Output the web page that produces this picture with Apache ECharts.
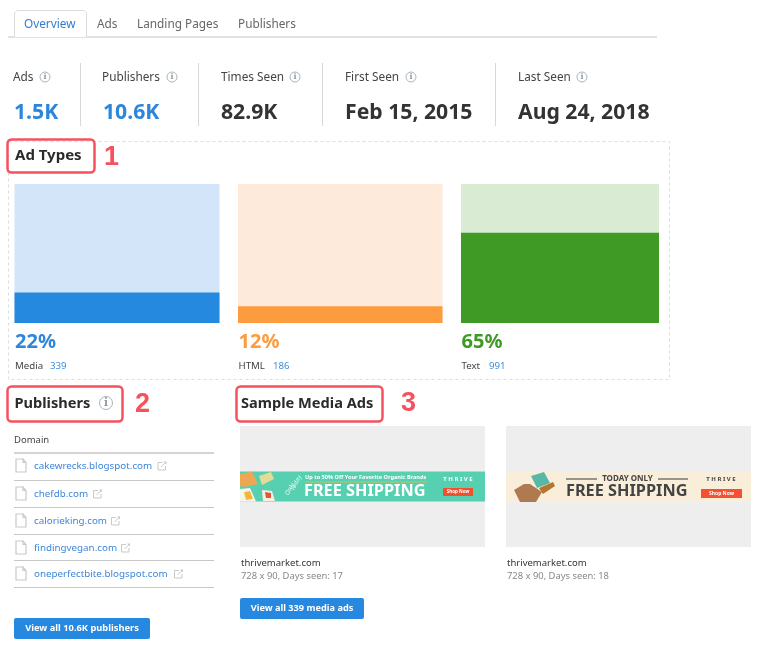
<!DOCTYPE html>
<html>
<head>
<meta charset="utf-8">
<title>Ad Types</title>
<style>
  html, body { margin: 0; padding: 0; background: #fff; }
  #chart { width: 762px; height: 648px; }
</style>
<script src="https://cdn.jsdelivr.net/npm/echarts@6/dist/echarts.min.js"></script>
</head>
<body>
<div id="chart"></div>
<script>
// 数据
var tabs = ['Overview', 'Ads', 'Landing Pages', 'Publishers']
var statLabels = ['Ads', 'Publishers', 'Times Seen', 'First Seen', 'Last Seen']
var statValues = ['1.5K', '10.6K', '82.9K', 'Feb 15, 2015', 'Aug 24, 2018']
var adTypes = ['Media', 'HTML', 'Text']
var adShares = [22, 12, 65]
var adCounts = ['339', '186', '991']
var publishers = ['cakewrecks.blogspot.com', 'chefdb.com', 'calorieking.com', 'findingvegan.com', 'oneperfectbite.blogspot.com']
var sampleDomains = ['thrivemarket.com', 'thrivemarket.com']
var sampleInfo = ['728 x 90, Days seen: 17', '728 x 90, Days seen: 18']

var FONT = '"Noto Sans", sans-serif'
var BLUE = '#2b86dc'
var DARK = '#333333'
var GRAY = '#666666'
var RED = '#f5525d'
var LINE = '#dddddd'

var els = []

function text(str, x, y, size, color, weight, align, family) {
  var el = {
    type: 'text',
    x: x,
    y: y,
    silent: true,
    style: {
      text: str,
      fontFamily: family || FONT,
      fontSize: size,
      fontWeight: weight || 'normal',
      fill: color,
      align: align || 'left',
      verticalAlign: 'middle',
    },
  }
  els.push(el)
  return el
}

function rect(x, y, w, h, fill, r) {
  els.push({
    type: 'rect',
    silent: true,
    shape: { x: x, y: y, width: w, height: h, r: r || 0 },
    style: { fill: fill },
  })
}

function box(x, y, w, h, stroke, lineWidth, r, dash) {
  els.push({
    type: 'rect',
    silent: true,
    shape: { x: x, y: y, width: w, height: h, r: r || 0 },
    style: { fill: 'none', stroke: stroke, lineWidth: lineWidth, lineDash: dash || null },
  })
}

function line(x1, y1, x2, y2, color, width) {
  els.push({
    type: 'line',
    silent: true,
    shape: { x1: x1, y1: y1, x2: x2, y2: y2 },
    style: { stroke: color, lineWidth: width || 1 },
  })
}

function poly(points, fill) {
  els.push({
    type: 'polygon',
    silent: true,
    shape: { points: points },
    style: { fill: fill },
  })
}

// 信息图标
function infoIcon(cx, cy, r) {
  els.push({
    type: 'circle',
    silent: true,
    shape: { cx: cx, cy: cy, r: r },
    style: { fill: 'none', stroke: '#a9b4bb', lineWidth: 1 },
  })
  text('i', cx, cy, r * 1.6, '#8f9ba3', 'bold', 'center', 'DejaVu Serif')
}

// 文件图标
function fileIcon(x, y) {
  els.push({
    type: 'polyline',
    silent: true,
    shape: { points: [[x + 7, y], [x, y], [x, y + 13], [x + 10, y + 13], [x + 10, y + 3.5], [x + 7, y], [x + 7, y + 3.5], [x + 10, y + 3.5]] },
    style: { fill: 'none', stroke: '#c9c9c9', lineWidth: 1.2 },
  })
}

// 外链图标
function linkIcon(cx, cy) {
  els.push({
    type: 'polyline',
    silent: true,
    shape: { points: [[cx + 0.5, cy - 3.5], [cx - 4, cy - 3.5], [cx - 4, cy + 4], [cx + 3.5, cy + 4], [cx + 3.5, cy]] },
    style: { fill: 'none', stroke: '#c9c9c9', lineWidth: 1 },
  })
  line(cx - 1, cy + 1, cx + 4, cy - 4, '#c9c9c9', 1)
  poly([[cx + 1.5, cy - 4.5], [cx + 4.5, cy - 4.5], [cx + 4.5, cy - 1.5]], '#c9c9c9')
}

// 顶部标签
var tabX = [24, 97, 137, 238]
line(8, 37, 657, 37, '#e2e2e2', 2)
els.push({
  type: 'polyline',
  silent: true,
  shape: { points: [[14.5, 37], [14.5, 13], [17, 10.5], [84, 10.5], [86.5, 13], [86.5, 37]] },
  style: { fill: '#fff', stroke: '#dcdcdc', lineWidth: 1 },
})
tabs.forEach(function (name, i) {
  text(name, tabX[i], 24.5, 11.8, i === 0 ? '#2f7ed0' : GRAY)
})

// 统计
var statX = [13, 102, 221, 345, 518]
var statValueX = [14, 103, 221, 345, 518]
var statIconX = [45, 172, 295, 411, 582]
var statSepX = [80.5, 198.5, 322.5, 495.5]
statLabels.forEach(function (name, i) {
  text(name, statX[i], 77.5, 11.8, '#444444')
  infoIcon(statIconX[i], 77, 5)
  text(statValues[i], statValueX[i], 113, 21.2, i < 2 ? BLUE : DARK, 'bold')
})
statSepX.forEach(function (x) {
  line(x, 63, x, 126, '#d8d8d8', 1)
})

// Ad Types 区域
box(8.5, 141.5, 661, 238, LINE, 1, 0, [3, 3])
rect(10, 143, 84, 29, '#fff')
box(7.5, 139.5, 87, 33, RED, 2.5, 4)
text('Ad Types', 15, 156, 15, '#2b2b2b', 'bold')
text('1', 104, 158, 27, RED, 'bold', 'left', '"Liberation Sans"')

var barLeft = [14.5, 238, 461]
var barWidth = [205, 204.5, 198]
var barTop = 184
var barHeight = 139
var barColors = ['#2589df', '#fd9c3f', '#3e9a24']
var barBgColors = ['#d3e5f8', '#feeadb', '#d9ebd3']
var percentColors = ['#2f86dc', '#fd9c3f', '#3e9a24']
var countX = [50, 273, 489]

adTypes.forEach(function (name, i) {
  text(adShares[i] + '%', barLeft[i] + 0.5, 342, 20, percentColors[i], 'bold')
  text(name, barLeft[i] + 0.5, 366.5, 9.7, '#444444')
  text(adCounts[i], countX[i], 366.5, 9.7, '#3f8fdf')
})

// Publishers 区域
box(7.5, 386.5, 115, 35, RED, 2.5, 4)
text('Publishers', 14.5, 404, 14.6, '#2b2b2b', 'bold')
infoIcon(106, 403, 6.5)
text('2', 135, 405, 27, RED, 'bold', 'left', '"Liberation Sans"')
text('Domain', 14, 440, 9.5, '#444444')
line(14, 453, 214, 453, '#aaaaaa', 1.2)

var rowY = [466, 494, 521, 548, 574]
var rowLineY = [480.5, 507.5, 534.5, 560.5, 587.5]
var linkIconX = [162, 97.5, 115.5, 125.5, 178.5]
publishers.forEach(function (name, i) {
  fileIcon(16, rowY[i] - 7)
  text(name, 34, rowY[i] + 0.5, 9.8, '#3f86d8')
  linkIcon(linkIconX[i], rowY[i])
  line(14, rowLineY[i], 214, rowLineY[i], '#c8c8c8', 1)
})

rect(14, 618, 136, 21, '#2688df', 2)
text('View all 10.6K publishers', 82, 628.5, 9.3, '#ffffff', 'bold', 'center')

// Sample Media Ads 区域
box(236.5, 386.5, 146, 35, RED, 2.5, 4)
text('Sample Media Ads', 241, 404, 14.6, '#2b2b2b', 'bold')
text('3', 401, 404, 27, RED, 'bold', 'left', '"Liberation Sans"')

var panelX = [240, 506]
panelX.forEach(function (x, i) {
  rect(x, 426, 245, 121, '#eeeeee')
  text(sampleDomains[i], x + 1, 563.5, 9.5, '#333333')
  text(sampleInfo[i], x + 1, 576.5, 9.4, '#888888')
})
rect(240, 598, 124, 21, '#2688df', 2)
text('View all 339 media ads', 302, 608.5, 9.2, '#ffffff', 'bold', 'center')

// 广告图 1
rect(240, 471.5, 245, 30, '#57d0b2')
poly([[240, 474], [252, 471.5], [258, 484], [244, 487], [240, 486]], '#eda653')
poly([[259, 476], [271, 472], [274, 479], [262, 485]], '#e3dc97')
poly([[240, 489], [250, 488], [256, 501.5], [240, 501.5]], '#f5f6ea')
poly([[244, 492], [250, 491], [253, 499], [246, 500]], '#f5b73b')
poly([[262, 490], [272, 491], [275, 501], [263, 501]], '#f6efe0')
poly([[265, 492], [271, 493], [271, 498], [266, 498]], '#e2553a')
text('Today', 296, 483, 6, '#e8fbf5', 'normal', 'center').rotation = 1.1
text('Only', 290, 489, 6, '#e8fbf5', 'normal', 'center').rotation = 1.1
text('Up to 50% Off Your Favorite Organic Brands', 305, 477, 5.6, '#ffffff', 'bold')
line(305, 482, 427, 482, '#c9bc60', 1.2)
text('FREE SHIPPING', 304, 491.5, 16.3, '#ffffff', 'bold')
text('T H R I V E', 458, 479.5, 6, '#ffffff', 'bold', 'center')
rect(443, 488, 30, 8, '#f0502e')
text('Shop Now', 458, 492, 4.5, '#ffffff', 'bold', 'center')

// 广告图 2
rect(506, 472, 245, 30, '#f9eeda')
poly([[524, 484], [530, 484], [542, 492], [536, 502], [520, 502], [514, 490]], '#b07a50')
poly([[531, 476], [544, 472], [550, 483], [537, 488]], '#59b7a6')
poly([[539, 488], [553, 482], [555, 486], [543, 494]], '#b5762e')
text('TODAY ONLY', 627.5, 479, 8, '#444444', 'bold', 'center')
line(566, 479, 597, 479, '#555555', 1.2)
line(658, 479, 688, 479, '#555555', 1.2)
text('FREE SHIPPING', 566, 491.5, 16.3, '#444444', 'bold')
text('T H R I V E', 721, 479.5, 6, '#444444', 'bold', 'center')
rect(701, 489, 41, 9, '#f5502f')
text('Shop Now', 721.5, 493.5, 5, '#ffffff', 'bold', 'center')

// 柱状图
var myChart = echarts.init(document.getElementById('chart'))

var option = {
  animation: false,
  grid: adTypes.map(function (name, i) {
    return { left: barLeft[i], top: barTop, width: barWidth[i], height: barHeight, containLabel: false }
  }),
  xAxis: adTypes.map(function (name, i) {
    return { type: 'category', gridIndex: i, data: [name], show: false }
  }),
  yAxis: adTypes.map(function (name, i) {
    return { type: 'value', gridIndex: i, min: 0, max: 100, show: false }
  }),
  series: adTypes.map(function (name, i) {
    return {
      name: name,
      type: 'bar',
      xAxisIndex: i,
      yAxisIndex: i,
      barWidth: '100%',
      showBackground: true,
      backgroundStyle: { color: barBgColors[i] },
      itemStyle: { color: barColors[i] },
      data: [adShares[i]],
    }
  }),
  graphic: { elements: els },
}

myChart.setOption(option)
</script>
</body>
</html>
